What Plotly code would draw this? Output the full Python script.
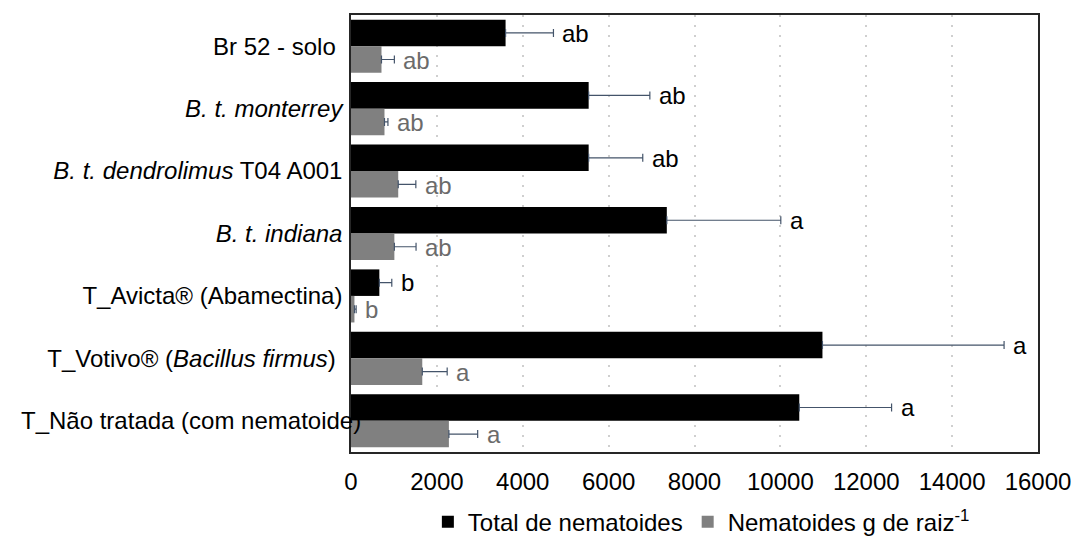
import plotly.graph_objects as go

categories = ["Br 52 - solo", "B. t. monterrey", "B. t. dendrolimus T04 A001",
              "B. t. indiana", "T_Avicta (Abamectina)", "T_Votivo (Bacillus firmus)",
              "T_Nao tratada (com nematoide)"]
category_labels = ["Br 52 - solo ", "<i>B. t. monterrey</i>", "<i>B. t. dendrolimus</i> T04 A001",
                   "<i>B. t. indiana</i>", "T_Avicta® (Abamectina)",
                   "T_Votivo® (<i>Bacillus firmus</i>) ", "T_Não tratada (com nematoide)"]

total_values = [3600, 5535, 5535, 7355, 660, 10980, 10440]
total_errors = [1115, 1425, 1260, 2655, 290, 4230, 2150]
total_letters = ["ab", "ab", "ab", "a", "b", "a", "a"]

root_values = [710, 780, 1100, 1010, 80, 1660, 2280]
root_errors = [300, 80, 410, 505, 40, 580, 670]
root_letters = ["ab", "ab", "ab", "ab", "b", "a", "a"]

x_ticks = [0, 2000, 4000, 6000, 8000, 10000, 12000, 14000, 16000]

FONT = "Liberation Sans, Arial, sans-serif"
ERR_COLOR = "#44546A"

fig = go.Figure()
fig.add_trace(go.Bar(
    y=categories, x=total_values, orientation="h", name="Total de nematoides",
    marker=dict(color="#000000", line=dict(width=0)),
    error_x=dict(type="data", array=total_errors, symmetric=False, arrayminus=[0]*7,
                 color=ERR_COLOR, thickness=1.2, width=4),
))
fig.add_trace(go.Bar(
    y=categories, x=root_values, orientation="h", name="Nematoides g de raiz<sup>-1</sup>",
    marker=dict(color="#808080", line=dict(width=0)),
    error_x=dict(type="data", array=root_errors, symmetric=False, arrayminus=[0]*7,
                 color=ERR_COLOR, thickness=1.2, width=4),
))

annotations = []
for cat, v, e, t in zip(categories, total_values, total_errors, total_letters):
    annotations.append(dict(x=v + e, y=cat, xref="x", yref="y", text=t, showarrow=False,
                            xanchor="left", yanchor="middle", xshift=7, yshift=13,
                            font=dict(family=FONT, size=24, color="#000000")))
for cat, v, e, t in zip(categories, root_values, root_errors, root_letters):
    annotations.append(dict(x=v + e, y=cat, xref="x", yref="y", text=t, showarrow=False,
                            xanchor="left", yanchor="middle", xshift=7, yshift=-14,
                            font=dict(family=FONT, size=24, color="#6b6b6b")))

# the last category label is wider than the margin and overlaps the axis, as in the original
tick_texts = category_labels[:-1] + [""]
annotations.append(dict(x=0.018, y=categories[-1], xref="paper", yref="y",
                        text=category_labels[-1], showarrow=False,
                        xanchor="right", yanchor="middle",
                        font=dict(family=FONT, size=24, color="#000000")))

fig.update_layout(
    width=1063, height=542,
    margin=dict(l=343, r=33, t=7, b=97),
    paper_bgcolor="white", plot_bgcolor="white",
    barmode="group", bargap=0.15, bargroupgap=0,
    font=dict(family=FONT, size=24, color="#000000"),
    showlegend=True,
    legend=dict(orientation="h", x=0.51, xanchor="center", y=-0.158, yanchor="middle",
                font=dict(family=FONT, size=24, color="#000000"),
                itemwidth=30, traceorder="normal", bgcolor="rgba(0,0,0,0)"),
    annotations=annotations,
)
fig.update_xaxes(range=[0, 16000], tickvals=x_ticks, ticktext=[str(v) for v in x_ticks],
                 showgrid=True, gridcolor="#cfcfcf", griddash="2px,8px", gridwidth=1.5,
                 showline=True, linecolor="#262626", linewidth=1.5, mirror=True,
                 zeroline=False, ticks="", ticklabelstandoff=7, automargin=False,
                 ticklabeloverflow="allow",
                 tickfont=dict(family=FONT, size=24, color="#000000"))
fig.update_yaxes(categoryorder="array", categoryarray=categories, autorange="reversed",
                 tickvals=categories, ticktext=tick_texts,
                 showgrid=False, showline=True, linecolor="#262626", linewidth=1.5, mirror=True,
                 ticks="", ticklabelstandoff=2, automargin=False,
                 tickfont=dict(family=FONT, size=24, color="#000000"))

fig.write_html("out.html")
